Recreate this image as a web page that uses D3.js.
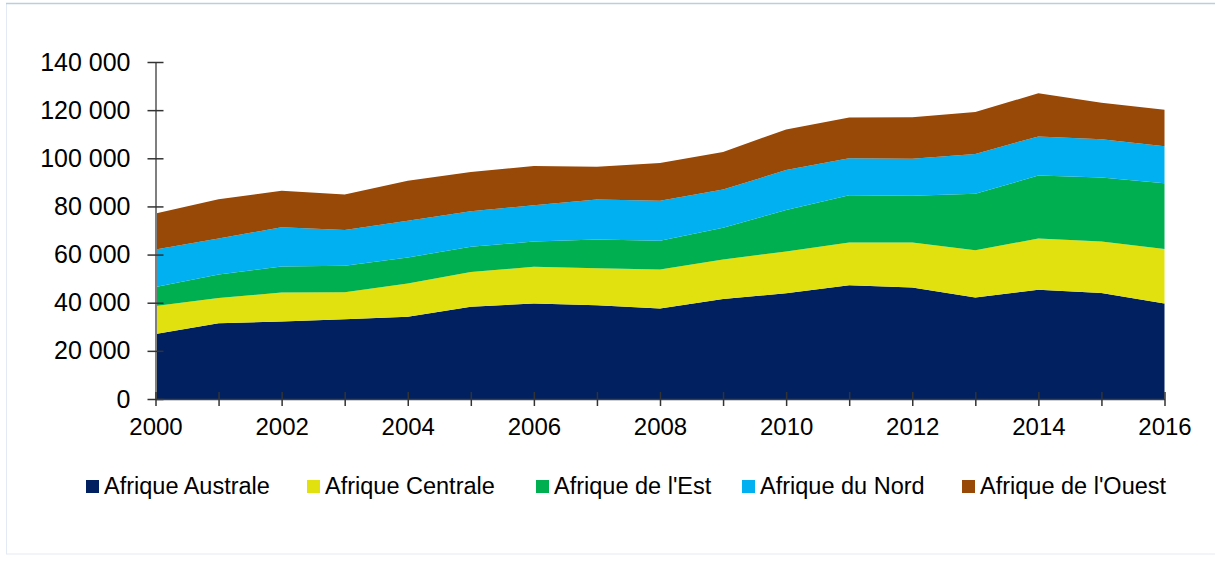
<!DOCTYPE html>
<html>
<head>
<meta charset="utf-8">
<script src="https://cdn.jsdelivr.net/npm/d3@7"></script>
<style>
  body { margin: 0; background: #fff; }
  svg { display: block; font-family: Arial, "Liberation Sans", sans-serif; }
</style>
</head>
<body>
<svg></svg>
<script>
// data
var years = [2000, 2001, 2002, 2003, 2004, 2005, 2006, 2007, 2008, 2009, 2010, 2011, 2012, 2013, 2014, 2015, 2016];
var australe = [27000, 31500, 32200, 33100, 34200, 38300, 39700, 38900, 37600, 41500, 43900, 47300, 46300, 42200, 45400, 44000, 39700];
var centrale = [11600, 10500, 12000, 11200, 13800, 14500, 15200, 15400, 16200, 16500, 17400, 17700, 18700, 19600, 21300, 21400, 22600];
var est      = [7900, 9700, 10800, 11100, 10800, 10400, 10500, 12000, 11900, 13100, 17200, 19600, 19400, 23500, 26100, 26600, 27300];
var nord     = [15600, 15000, 16300, 14800, 15200, 14800, 15100, 16600, 16700, 15900, 16600, 15400, 15400, 16500, 16300, 15900, 15400];
var ouest    = [15000, 16300, 15200, 14800, 16700, 16300, 16300, 13600, 15600, 15600, 16900, 16900, 17200, 17400, 17900, 15200, 15200];

var seriesNames = ["Afrique Australe", "Afrique Centrale", "Afrique de l'Est", "Afrique du Nord", "Afrique de l'Ouest"];
var seriesColors = ["#002060", "#e1e10f", "#00b050", "#00b0f0", "#984807"];
var yTicks = [0, 20000, 40000, 60000, 80000, 100000, 120000, 140000];
var xLabels = [2000, 2002, 2004, 2006, 2008, 2010, 2012, 2014, 2016];

var width = 1215, height = 562;
var svg = d3.select("svg").attr("width", width).attr("height", height);

// frame around the chart
svg.append("rect")
    .attr("x", 6.5).attr("y", 3.5)
    .attr("width", width).attr("height", 550.5)
    .attr("fill", "none")
    .attr("stroke", "#e3eaf3");
svg.append("line")
    .attr("x1", 6).attr("x2", width)
    .attr("y1", 3.5).attr("y2", 3.5)
    .attr("stroke", "#bccde3")
    .attr("stroke-width", 1.5);

var x = d3.scaleLinear().domain([2000, 2016]).range([155.5, 1164.5]);
var y = d3.scaleLinear().domain([0, 140000]).range([399, 62]);

var table = years.map(function(yr, i) {
  var row = { year: yr };
  row[seriesNames[0]] = australe[i];
  row[seriesNames[1]] = centrale[i];
  row[seriesNames[2]] = est[i];
  row[seriesNames[3]] = nord[i];
  row[seriesNames[4]] = ouest[i];
  return row;
});

var stack = d3.stack().keys(seriesNames);
var layers = stack(table);

var area = d3.area()
    .x(function(d) { return x(d.data.year); })
    .y0(function(d) { return y(d[0]); })
    .y1(function(d) { return y(d[1]); });

svg.append("g")
  .selectAll("path")
  .data(layers).enter()
  .append("path")
    .attr("fill", function(d, i) { return seriesColors[i]; })
    .attr("d", area);

// y axis
var yAxis = d3.axisLeft(y)
    .tickValues(yTicks)
    .tickSize(0)
    .tickPadding(25)
    .tickFormat(function(d) { return d3.format(",")(d).replace(/,/g, " "); });

var gy = svg.append("g").attr("transform", "translate(155.5,0)").call(yAxis);
gy.select(".domain").attr("stroke", "#7f7f7f").attr("stroke-width", 2);
gy.selectAll("text").attr("font-size", 25).attr("fill", "#000")
    .attr("font-family", "Arial, 'Liberation Sans', sans-serif");
gy.selectAll(".tick").append("line")
    .attr("x1", -8).attr("x2", 8)
    .attr("stroke", "#333").attr("stroke-width", 1.5);

// x axis
var xAxis = d3.axisBottom(x)
    .tickValues(years)
    .tickSize(0)
    .tickPadding(19)
    .tickFormat(function(d) { return xLabels.indexOf(d) >= 0 ? d : ""; });

var gx = svg.append("g").attr("transform", "translate(0,399)").call(xAxis);
gx.select(".domain").attr("stroke", "#404040").attr("stroke-width", 1.5);
gx.selectAll("text").attr("font-size", 24).attr("fill", "#000")
    .attr("font-family", "Arial, 'Liberation Sans', sans-serif");
gx.selectAll(".tick").append("line")
    .attr("y1", -7).attr("y2", 7)
    .attr("stroke", "#333").attr("stroke-width", 1.5);

// legend
var legendX = [86, 307, 536, 742, 962];
var legend = svg.append("g");
seriesNames.forEach(function(name, i) {
  legend.append("rect")
      .attr("x", legendX[i]).attr("y", 480)
      .attr("width", 13).attr("height", 13)
      .attr("fill", seriesColors[i]);
  legend.append("text")
      .attr("x", legendX[i] + 18).attr("y", 494)
      .attr("font-size", 23.5)
      .attr("fill", "#000")
      .text(name);
});
</script>
</body>
</html>
